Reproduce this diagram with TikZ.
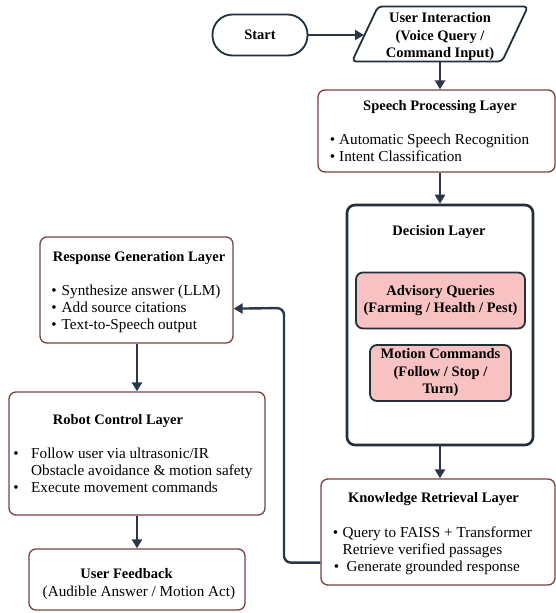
\documentclass[tikz,border=0pt]{standalone}
\usepackage{fontspec}
\setmainfont{Liberation Serif}
\usetikzlibrary{shapes.geometric,arrows.meta,calc}

\definecolor{navy}{HTML}{2B3647}
\definecolor{slate}{HTML}{22303A}
\definecolor{maroon}{HTML}{7B4242}
\definecolor{pinkfill}{HTML}{F7C2C1}
\newcommand\bodysize{\fontsize{15.2}{17.5}\selectfont}
\newcommand\headsize{\fontsize{14.5}{17.5}\selectfont\bfseries}

\tikzset{
  layer/.style={draw=maroon, line width=1.3pt, rounded corners=7pt, fill=white},
  choice/.style={draw=slate, line width=1.8pt, rounded corners=7pt, fill=pinkfill,
    align=center, font=\headsize, inner sep=0pt},
  title/.style={font=\headsize, anchor=base, inner sep=0pt},
  item/.style={font=\bodysize, anchor=base west, inner sep=0pt},
  dot/.style={font=\bodysize, anchor=base, inner sep=0pt},
  flow/.style={draw=navy, line width=2.4pt, -{Triangle[length=9pt,width=10pt]}},
}

\begin{document}
\begin{tikzpicture}[x=1pt,y=-1pt]
\useasboundingbox[fill=white] (0,0) rectangle (556,613);

% top row
\node[draw=slate, line width=1.8pt, rounded corners=20pt, minimum width=95pt, minimum height=41pt,
  font=\headsize] (start) at (260,35) {Start};
\node[trapezium, trapezium left angle=77, trapezium right angle=103, trapezium stretches=true,
  draw=slate, line width=1.8pt, rounded corners=4pt, minimum width=176pt, minimum height=55pt,
  font=\headsize, inner sep=0pt] (user) at (440,34) {\phantom{X}};
\node[align=center, font=\headsize, inner sep=0pt] (usert) at (440,37)
  {User Interaction\\(Voice Query /\\Command Input)};

% speech processing
\node[layer, minimum width=237pt, minimum height=82pt] (speech) at (436.5,131) {};
\node[title] (speecht) at (440,110) {Speech Processing Layer};
\node[dot] at (332.5,144) {•};
\node[item] at (339,144) {Automatic Speech Recognition};
\node[dot] at (332.5,161) {•};
\node[item] at (339,161) {Intent Classification};

% decision
\node[draw=slate, line width=2.6pt, rounded corners=8pt, minimum width=186pt, minimum height=240pt] (decide) at (440,325) {};
\node[title] (decidet) at (439,235) {Decision Layer};
\node[choice, minimum width=169pt, minimum height=56pt] (advice) at (440.5,300.5)
  {Advisory Queries\\(Farming / Health / Pest)};
\node[choice, minimum width=141pt, minimum height=56pt] (motion) at (440.5,373)
  {Motion Commands\\(Follow / Stop /\\Turn)};

% knowledge retrieval
\node[layer, minimum width=234pt, minimum height=106pt] (know) at (438,532) {};
\node[title] (knowt) at (433.5,502) {Knowledge Retrieval Layer};
\node[dot] at (335.5,537) {•};
\node[item] at (342.5,537) {Query to FAISS + Transformer};
\node[item] at (342.5,554) {Retrieve verified passages};
\node[dot] at (336.5,571) {•};
\node[item] at (346.5,571) {Generate grounded response};

% response generation
\node[layer, minimum width=193pt, minimum height=106pt] (resp) at (136.5,290) {};
\node[title] (respt) at (139,261) {Response Generation Layer};
\node[dot] at (54,295) {•};
\node[item] at (61.5,295) {Synthesize answer (LLM)};
\node[dot] at (54,312) {•};
\node[item] at (61.5,312) {Add source citations};
\node[dot] at (54,329) {•};
\node[item] at (61.5,329) {Text-to-Speech output};

% robot control
\node[layer, minimum width=256pt, minimum height=123pt] (robot) at (137,453.5) {};
\node[title] (robott) at (118,424) {Robot Control Layer};
\node[dot] at (16,458) {•};
\node[item] at (31,458) {Follow user via ultrasonic/IR};
\node[item] at (31,475) {Obstacle avoidance \& motion safety};
\node[dot] at (16,492) {•};
\node[item] at (31,492) {Execute movement commands};

% user feedback
\node[layer, minimum width=216pt, minimum height=61pt] (feed) at (137,579.5) {};
\node[title] (feedt) at (126.5,578) {User Feedback};
\node[font=\bodysize, anchor=base, inner sep=0pt] (feedl) at (139,596) {(Audible Answer / Motion Act)};

% connectors
\draw[flow] (start.east) -- (user.west |- start.east);
\draw[flow] (user.south) -- (user.south |- speech.north);
\draw[flow] (decide.north |- speech.south) -- (decide.north);
\draw[flow] (decide.south) -- (decide.south |- know.north);
\draw[flow, rounded corners=7pt] ($(know.south west)+(0,-23)$) -| (284,308) -- ($(resp.south east)+(0,-35)$);
\draw[flow] (resp.south -| 137,0) -- (robot.north -| 137,0);
\draw[flow] (robot.south) -- (feed.north);
\end{tikzpicture}
\end{document}
